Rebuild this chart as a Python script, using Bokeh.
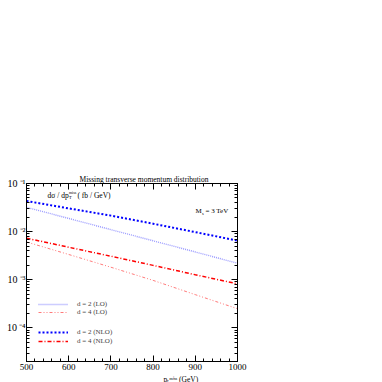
import math
from bokeh.plotting import figure
from bokeh.models import (Range1d, LogAxis, LinearAxis, FixedTicker, SingleIntervalTicker,
                          Label, Legend, LegendItem, CustomJSTickFormatter, Title)
from bokeh.embed import file_html
from bokeh.resources import INLINE

# ---- data ----
pt_miss = [500, 600, 700, 800, 900, 1000]
d2_lo = [0.032, 0.0188, 0.0110, 0.00645, 0.00378, 0.0022]
d4_lo = [0.0061, 0.00335, 0.00182, 0.00097, 0.00049, 0.00025]
d2_nlo = [0.0433, 0.0304, 0.0215, 0.0146, 0.00977, 0.0065]
d4_nlo = [0.0073, 0.00474, 0.00308, 0.00199, 0.00127, 0.00082]

y_major = [1e-4, 1e-3, 1e-2, 1e-1]

title_text = "Missing transverse momentum distribution"
x_title = "pₜᵐⁱˢˢ (GeV)"

XMIN, XMAX = 500, 1000
YMIN, YMAX = 2e-5, 0.1

FONT = "Liberation Serif"

# frame geometry (canvas pixels)
L, R, T, B = 26, 237, 183, 361


def X(px):
    return XMIN + (px - L) / (R - L) * (XMAX - XMIN)


def Y(py):
    la, lb = math.log10(YMAX), math.log10(YMIN)
    return 10 ** (la - (py - T) / (B - T) * (la - lb))


p = figure(y_axis_type="log", x_range=Range1d(XMIN, XMAX), y_range=Range1d(YMIN, YMAX),
           frame_width=R - L, frame_height=B - T, output_backend="svg", toolbar_location=None,
           min_border_left=L, min_border_top=T, min_border_right=13, min_border_bottom=10)
p.background_fill_color = "white"
p.border_fill_color = "white"
p.outline_line_color = "black"
p.outline_line_width = 1
p.xgrid.visible = False
p.ygrid.visible = False

minor_y = [k * 10 ** e for e in range(-5, -1) for k in range(2, 10)]
blank = CustomJSTickFormatter(code="return '';")
pow10 = CustomJSTickFormatter(code="""
const sup = {'-': '\u207b', '0': '\u2070', '1': '\u00b9', '2': '\u00b2', '3': '\u00b3',
             '4': '\u2074', '5': '\u2075', '6': '\u2076'};
const e = Math.round(Math.log10(tick));
return '10\u2009' + String(e).split('').map(c => sup[c]).join('');
""")


def style_axis(ax, labels=True):
    ax.major_tick_in = 6
    ax.major_tick_out = 0
    ax.minor_tick_in = 3
    ax.minor_tick_out = 0
    ax.axis_line_color = "black"
    ax.major_tick_line_color = "black"
    ax.minor_tick_line_color = "black"
    ax.major_label_text_font = FONT
    ax.major_label_text_color = "black"
    if labels:
        ax.major_label_text_font_size = "9px"
        ax.major_label_standoff = 3
    else:
        ax.formatter = blank
        ax.major_label_text_font_size = "1px"
        ax.major_label_standoff = 0


xt = SingleIntervalTicker(interval=100, num_minor_ticks=5)
p.xaxis.ticker = xt
style_axis(p.xaxis[0], True)
p.xaxis.major_label_standoff = 2

yt = FixedTicker(ticks=y_major, minor_ticks=minor_y)
p.yaxis.ticker = yt
style_axis(p.yaxis[0], True)
p.yaxis.formatter = pow10
p.yaxis.major_label_text_font_size = "10px"
p.yaxis.major_label_standoff = 1

top = LinearAxis(ticker=SingleIntervalTicker(interval=100, num_minor_ticks=5))
style_axis(top, False)
p.add_layout(top, "above")
right = LogAxis(ticker=FixedTicker(ticks=y_major, minor_ticks=minor_y))
style_axis(right, False)
p.add_layout(right, "right")

# title above the frame
p.title = Title(text=title_text, align="left", offset=53, text_font=FONT,
                text_font_size="7.5px", text_font_style="normal", text_color="black",
                standoff=0)

# x quantity label below
p.add_layout(Title(text=x_title, align="left", offset=137, text_font=FONT,
                   text_font_size="7.5px", text_font_style="normal", text_color="black",
                   standoff=0), "below")

# ---- curves ----
r_b_lo = p.line(pt_miss, d2_lo, line_color="#9a9aff", line_width=1.4, line_dash="1 1")
r_r_lo = p.line(pt_miss, d4_lo, line_color="#ff7a7a", line_width=1, line_dash="3 2 1 2 1 2")
r_b_nlo = p.line(pt_miss, d2_nlo, line_color="#0000ff", line_width=2, line_dash="2 2")
r_r_nlo = p.line(pt_miss, d4_nlo, line_color="#ff0000", line_width=1.5, line_dash="4 2 1 2")


def make_legend(items, loc, spacing):
    lg = Legend(items=items, location=loc, label_text_font=FONT, label_text_font_size="7px",
                glyph_width=30, glyph_height=8, label_height=8, label_standoff=9,
                spacing=spacing, padding=0, margin=0, border_line_color=None,
                background_fill_alpha=0)
    p.add_layout(lg)


make_legend([LegendItem(label="d = 2 (LO)", renderers=[r_b_lo]),
             LegendItem(label="d = 4 (LO)", renderers=[r_r_lo])], (12, 45), 0)
make_legend([LegendItem(label="d = 2 (NLO)", renderers=[r_b_nlo]),
             LegendItem(label="d = 4 (NLO)", renderers=[r_r_nlo])], (12, 16), 1)


def lab(text, px, py, size, align="left"):
    p.add_layout(Label(x=X(px), y=Y(py), text=text, text_font=FONT, text_font_size=size,
                       text_align=align, text_baseline="middle", text_color="black"))


# y quantity label (inside the frame)
lab("dσ / dp", 47, 194.5, "7.5px")
lab("T", 68.5, 197, "4.5px")
lab("miss", 68.5, 191.5, "4px")
lab("( fb / GeV)", 77, 194.5, "7.5px")

# M_s = 3 TeV
lab("M", 195, 210.5, "7px")
lab("s", 201.5, 212.5, "4.5px")
lab("= 3 TeV", 205, 210.5, "7px")

open("out.html", "w").write(file_html(p, INLINE))
